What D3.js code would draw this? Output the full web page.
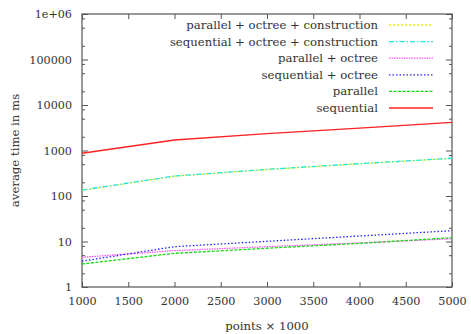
<!DOCTYPE html>
<html>
<head>
<meta charset="utf-8">
<script src="https://cdn.jsdelivr.net/npm/d3@7"></script>
<style>
  body { margin: 0; background: #fff; }
  svg text { font-family: "DejaVu Serif", serif; fill: #333; }
</style>
</head>
<body>
<div id="chart"></div>
<script>
// data (x = points / 1000, y = ms)
const pointsK = [1000, 2000, 3000, 4000, 5000];
const parOctreeConstr = [133, 272, 380, 510, 670];
const seqOctreeConstr = [135, 275, 385, 515, 675];
const parOctree = [4.5, 6.3, 7.7, 9.3, 11.5];
const seqOctree = [3.7, 7.7, 10.1, 13.2, 17.3];
const parallel = [3.2, 5.5, 7.1, 9.1, 12.1];
const sequential = [870, 1700, 2340, 3100, 4170];

const seriesNames = ["parallel + octree + construction", "sequential + octree + construction",
  "parallel + octree", "sequential + octree", "parallel", "sequential"];
const seriesValues = [parOctreeConstr, seqOctreeConstr, parOctree, seqOctree, parallel, sequential];

const xTicks = [1000, 1500, 2000, 2500, 3000, 3500, 4000, 4500, 5000];
const yTicks = [1, 10, 100, 1000, 10000, 100000, 1000000];
const yTickLabels = ["1", "10", "100", "1000", "10000", "100000", "1e+06"];

// styles, same order as seriesNames
const colors = ["#f0f000", "#22e6e6", "#ff55ff", "#2222ff", "#11dd11", "#ff2222"];
const dashes = ["2,2", "5,2,1.5,2", "1.5,1", "1.5,2", "3,1.5", null];

const width = 471, height = 334;
const plotLeft = 82, plotRight = 452, plotTop = 14, plotBottom = 287;

const svg = d3.select("#chart").append("svg")
    .attr("width", width)
    .attr("height", height);

const x = d3.scaleLinear().domain([1000, 5000]).range([plotLeft, plotRight]);
const y = d3.scaleLog().domain([1, 1e6]).range([plotBottom, plotTop]);

// minor ticks at 2, 5, 8 of each decade
const minor = [];
yTicks.slice(0, -1).forEach(d => [2, 5, 8].forEach(m => minor.push(d * m)));

const axisColor = "#555";

function styleAxis(g) {
  g.select(".domain").remove();
  g.selectAll(".tick line").attr("stroke", axisColor).attr("stroke-width", 1);
  g.selectAll(".tick text").attr("font-family", "DejaVu Serif").attr("font-size", 11.2).attr("fill", "#333");
}

// bottom axis
svg.append("g")
    .attr("transform", `translate(0,${plotBottom})`)
    .call(d3.axisBottom(x).tickValues(xTicks).tickFormat(d3.format("d")).tickSize(-5).tickPadding(10))
    .call(styleAxis);

// top axis (ticks only)
svg.append("g")
    .attr("transform", `translate(0,${plotTop})`)
    .call(d3.axisTop(x).tickValues(xTicks).tickFormat("").tickSize(-5))
    .call(styleAxis);

// left axis
svg.append("g")
    .attr("transform", `translate(${plotLeft},0)`)
    .call(d3.axisLeft(y).tickValues(yTicks).tickFormat((d, i) => yTickLabels[i]).tickSize(-6).tickPadding(10))
    .call(styleAxis);

svg.append("g")
    .attr("transform", `translate(${plotLeft},0)`)
    .call(d3.axisLeft(y).tickValues(minor).tickFormat("").tickSize(-3))
    .call(styleAxis);

// right axis (mirror ticks)
svg.append("g")
    .attr("transform", `translate(${plotRight},0)`)
    .call(d3.axisRight(y).tickValues(yTicks).tickFormat("").tickSize(-6))
    .call(styleAxis);

svg.append("g")
    .attr("transform", `translate(${plotRight},0)`)
    .call(d3.axisRight(y).tickValues(minor).tickFormat("").tickSize(-3))
    .call(styleAxis);

// border
svg.append("rect")
    .attr("x", plotLeft)
    .attr("y", plotTop)
    .attr("width", plotRight - plotLeft)
    .attr("height", plotBottom - plotTop)
    .attr("fill", "none")
    .attr("stroke", axisColor)
    .attr("stroke-width", 1.2);

// lines
const line = d3.line()
    .x((d, i) => x(pointsK[i]))
    .y(d => y(d));

seriesValues.forEach((vals, i) => {
  svg.append("path")
      .datum(vals)
      .attr("d", line)
      .attr("fill", "none")
      .attr("stroke", colors[i])
      .attr("stroke-width", 1.3)
      .attr("stroke-dasharray", dashes[i]);
});

// legend
const legendRight = 378;
seriesNames.forEach((name, i) => {
  const ly = 25 + i * 16.6;
  svg.append("text")
      .attr("x", legendRight)
      .attr("y", ly + 4)
      .attr("text-anchor", "end")
      .attr("font-size", 11.7)
      .text(name);
  svg.append("line")
      .attr("x1", 389)
      .attr("x2", 433)
      .attr("y1", ly)
      .attr("y2", ly)
      .attr("stroke", colors[i])
      .attr("stroke-width", 1.3)
      .attr("stroke-dasharray", dashes[i]);
});

// axis titles
svg.append("text")
    .attr("x", (plotLeft + plotRight) / 2)
    .attr("y", 330)
    .attr("text-anchor", "middle")
    .attr("font-size", 11.7)
    .text("points × 1000");

svg.append("text")
    .attr("transform", `translate(19,${(plotTop + plotBottom) / 2}) rotate(-90)`)
    .attr("text-anchor", "middle")
    .attr("font-size", 11.7)
    .text("average time in ms");
</script>
</body>
</html>
